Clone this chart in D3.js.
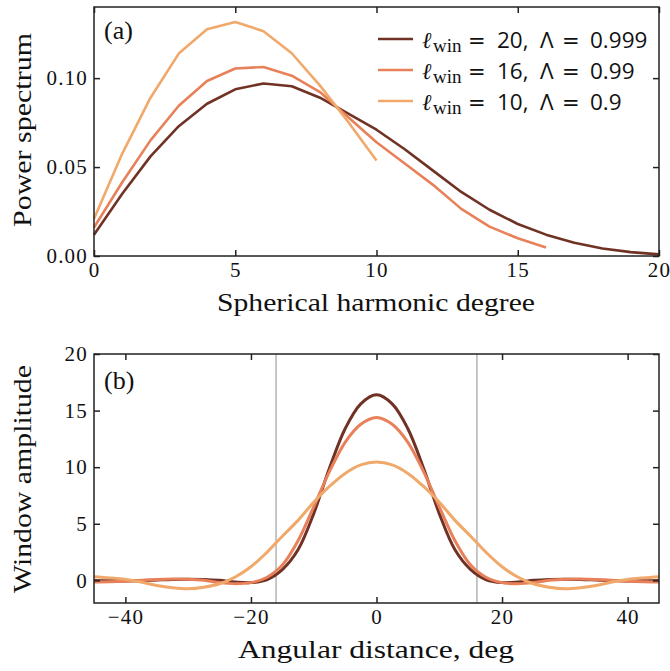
<!DOCTYPE html>
<html>
<head>
<meta charset="utf-8">
<script src="https://cdn.jsdelivr.net/npm/d3@7"></script>
<style>
  body { margin: 0; background: #fff; }
  svg text { font-family: "Liberation Serif", serif; fill: #111; }
  .leg text { font-family: "Open Sans", sans-serif; }
</style>
</head>
<body>
<svg id="fig" width="670" height="671"></svg>
<script>
// (a) power spectra of the windows
const degree = [0, 1, 2, 3, 4, 5, 6, 7, 8, 9, 10, 11, 12, 13, 14, 15, 16, 17, 18, 19, 20];
const powerWin20 = [0.012, 0.035, 0.056, 0.073, 0.0856, 0.0937, 0.097, 0.0954, 0.089, 0.080, 0.071,
    0.060, 0.048, 0.036, 0.026, 0.018, 0.012, 0.0075, 0.0042, 0.0022, 0.0009];
const powerWin16 = [0.016, 0.0415, 0.065, 0.0845, 0.0984, 0.1054, 0.1063, 0.1014, 0.0922, 0.078, 0.064,
    0.052, 0.040, 0.0265, 0.0165, 0.0100, 0.0048];
const powerWin10 = [0.021, 0.0576, 0.089, 0.1138, 0.1275, 0.1316, 0.1264, 0.114, 0.0958, 0.0753, 0.0537];

// (b) window amplitude vs angular distance
const angle = [-45, -42.5, -40, -37.5, -35, -32.5, -30, -27.5, -25, -22.5, -20, -17.5, -15, -12.5, -10, -7.5, -5, -2.5,
    0, 2.5, 5, 7.5, 10, 12.5, 15, 17.5, 20, 22.5, 25, 27.5, 30, 32.5, 35, 37.5, 40, 42.5, 45];
const ampWin20 = [-0.02, -0.04, -0.05, -0.02, 0.03, 0.08, 0.1, 0.08, 0.0, -0.15, -0.2, 0.05, 0.95, 2.7, 5.9, 9.9, 13.4, 15.6,
    16.4, 15.6, 13.4, 9.9, 5.9, 2.7, 0.95, 0.05, -0.2, -0.15, 0.0, 0.08, 0.1, 0.08, 0.03, -0.02, -0.05, -0.04, -0.02];
const ampWin16 = [-0.15, -0.13, -0.08, 0.0, 0.08, 0.12, 0.1, 0.0, -0.2, -0.3, -0.2, 0.25, 1.35, 3.5, 6.5, 9.6, 12.2, 13.8,
    14.4, 13.8, 12.2, 9.6, 6.5, 3.5, 1.35, 0.25, -0.2, -0.3, -0.2, 0.0, 0.1, 0.12, 0.08, 0.0, -0.08, -0.13, -0.15];
const ampWin10 = [0.33, 0.22, 0.08, -0.15, -0.45, -0.65, -0.74, -0.6, -0.3, 0.3, 1.2, 2.45, 3.9, 5.3, 6.9, 8.3, 9.45, 10.2,
    10.45, 10.2, 9.45, 8.3, 6.9, 5.3, 3.9, 2.45, 1.2, 0.3, -0.3, -0.6, -0.74, -0.65, -0.45, -0.15, 0.08, 0.22, 0.33];
const capLines = [-16, 16];

const lwin = ["20", "16", "10"];
const lambda = ["0.999", "0.99", "0.9"];
const colors = ["#6f3224", "#e8815a", "#f0a96a"];

const xTicksA = [0, 5, 10, 15, 20];
const yTicksA = [0, 0.05, 0.10];
const xTicksB = [-40, -20, 0, 20, 40];
const yTicksB = [0, 5, 10, 15, 20];

const svg = d3.select("#fig");
const left = 94, right = 659;

// 面板 (a)
const xA = d3.scaleLinear().domain([0, 20]).range([left, right]);
const yA = d3.scaleLinear().domain([0, 0.14]).range([256, 7]);
// 面板 (b)
const xB = d3.scaleLinear().domain([-45, 45]).range([left, right]);
const yB = d3.scaleLinear().domain([-2, 20]).range([603, 354]);

function frame(x, y, xt, yt, fmtY) {
    const g = svg.append("g");
    const y0 = y.range()[0], y1 = y.range()[1];
    const x0 = x.range()[0], x1 = x.range()[1];
    const axB = g.append("g").attr("transform", `translate(0,${y0})`)
        .call(d3.axisBottom(x).tickValues(xt).tickSizeInner(-6).tickSizeOuter(0).tickPadding(6));
    const axT = g.append("g").attr("transform", `translate(0,${y1})`)
        .call(d3.axisTop(x).tickValues(xt).tickSizeInner(-6).tickSizeOuter(0).tickFormat(""));
    const axL = g.append("g").attr("transform", `translate(${x0},0)`)
        .call(d3.axisLeft(y).tickValues(yt).tickSizeInner(-6).tickSizeOuter(0).tickPadding(6).tickFormat(fmtY));
    const axR = g.append("g").attr("transform", `translate(${x1},0)`)
        .call(d3.axisRight(y).tickValues(yt).tickSizeInner(-6).tickSizeOuter(0).tickFormat(""));
    [axB, axT, axL, axR].forEach(a => {
        a.select(".domain").remove();
        a.selectAll("line").attr("stroke", "#222").attr("stroke-width", 1.5);
        a.selectAll("text").style("font-family", "Liberation Serif, serif")
            .style("font-size", "21px").style("letter-spacing", "1.2px").attr("fill", "#111");
    });
    g.append("rect").attr("x", x0).attr("y", y1).attr("width", x1 - x0).attr("height", y0 - y1)
        .attr("fill", "none").attr("stroke", "#222").attr("stroke-width", 1.5);
}

// 剪裁区域
const defs = svg.append("defs");
defs.append("clipPath").attr("id", "clipB").append("rect")
    .attr("x", left).attr("y", 354).attr("width", right - left).attr("height", 249);

// 面板 (a) 曲线
const lineA = d3.line().x(d => xA(d[0])).y(d => yA(d[1]));
[powerWin20, powerWin16, powerWin10].forEach((s, i) => {
    svg.append("path")
        .datum(s.map((v, k) => [degree[k], v]))
        .attr("d", lineA)
        .attr("fill", "none")
        .attr("stroke", colors[i])
        .attr("stroke-width", 2.6)
        .attr("stroke-linejoin", "round");
});
frame(xA, yA, xTicksA, yTicksA, d3.format(".2f"));

// 面板 (b) 竖线与曲线
svg.append("g").selectAll("line").data(capLines).join("line")
    .attr("x1", d => xB(d)).attr("x2", d => xB(d))
    .attr("y1", yB(20)).attr("y2", yB(-2))
    .attr("stroke", "#a8a8a8").attr("stroke-width", 1.3);

const lineB = d3.line().x(d => xB(d[0])).y(d => yB(d[1])).curve(d3.curveCatmullRom.alpha(0.5));
const gB = svg.append("g").attr("clip-path", "url(#clipB)");
[ampWin20, ampWin16, ampWin10].forEach((s, i) => {
    gB.append("path")
        .datum(s.map((v, k) => [angle[k], v]))
        .attr("d", lineB)
        .attr("fill", "none")
        .attr("stroke", colors[i])
        .attr("stroke-width", 3);
});
frame(xB, yB, xTicksB, yTicksB, d3.format("d"));

// 轴标题（textLength 对齐原图宽度）
function title(txt, x, y, len, rot) {
    svg.append("text")
        .attr("transform", rot ? `translate(${x},${y}) rotate(-90)` : `translate(${x},${y})`)
        .attr("text-anchor", "middle")
        .attr("textLength", len).attr("lengthAdjust", "spacingAndGlyphs")
        .style("font-size", "25.5px").text(txt);
}
title("Spherical harmonic degree", 376, 311, 318, false);
title("Power spectrum", 31, 130, 194, true);
title("Angular distance, deg", 376, 658, 276, false);
title("Window amplitude", 31, 479, 228, true);

// 面板标签
svg.append("text").attr("x", 104).attr("y", 39).style("font-size", "26px").text("(a)");
svg.append("text").attr("x", 104).attr("y", 389).style("font-size", "26px").text("(b)");

// 图例（数学式按原图间距排开）
const leg = svg.append("g").attr("class", "leg");
lwin.forEach((l, i) => {
    const yy = 39 + i * 31;
    leg.append("line").attr("x1", 378).attr("x2", 413).attr("y1", yy).attr("y2", yy)
        .attr("stroke", colors[i]).attr("stroke-width", 2.6);
    const t = leg.append("text").attr("y", yy + 9).style("font-size", "22.5px");
    t.append("tspan").attr("x", 422).style("font-family", "DejaVu Serif, serif").style("font-style", "italic")
        .style("font-size", "23px").text("\u2113");
    t.append("tspan").attr("x", 433).attr("dy", 4).style("font-family", "Liberation Serif, serif")
        .style("font-size", "19px").text("win");
    t.append("tspan").attr("x", 468).attr("dy", -4).style("font-family", "DejaVu Sans, sans-serif")
        .style("font-size", "21px").text("=");
    t.append("tspan").attr("x", 497).text(`${l},`);
    t.append("tspan").attr("x", 540).text("\u039B");
    t.append("tspan").attr("x", 562).style("font-family", "DejaVu Sans, sans-serif")
        .style("font-size", "21px").text("=");
    t.append("tspan").attr("x", 590).text(lambda[i]);
});
</script>
</body>
</html>
